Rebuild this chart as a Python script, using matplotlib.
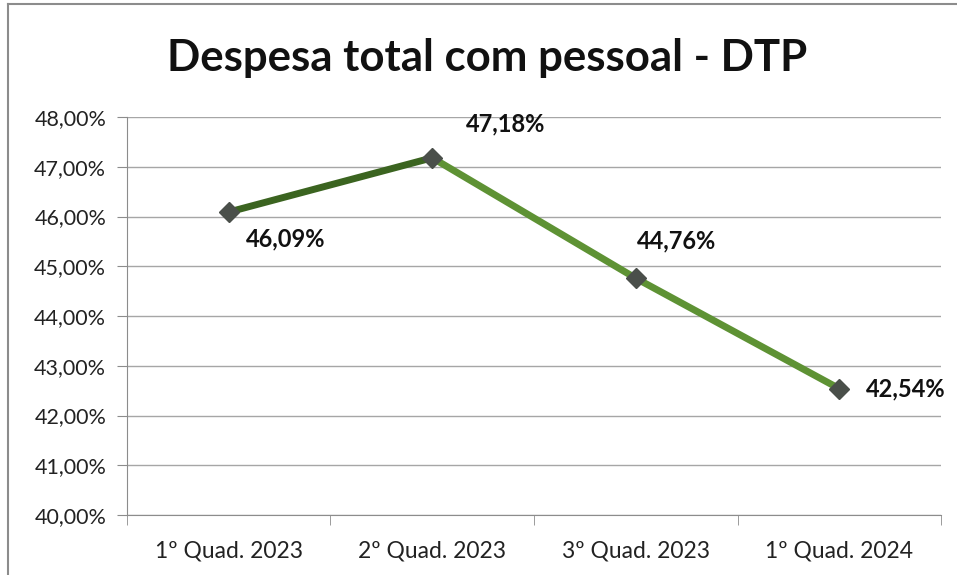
import matplotlib
matplotlib.use("Agg")
import matplotlib.pyplot as plt
from matplotlib.lines import Line2D
from matplotlib.ticker import FuncFormatter

plt.rcParams['font.family'] = ['Lato', 'DejaVu Sans']

# dados do gráfico
categorias = ['1º Quad. 2023', '2º Quad. 2023', '3º Quad. 2023', '1º Quad. 2024']
dtp = [46.09, 47.18, 44.76, 42.54]
rotulos = ['46,09%', '47,18%', '44,76%', '42,54%']
# deslocamento dos rótulos (pixels)
offsets = [(57, -27), (73, 34), (41, 37), (27, 0)]
alinh = ['center', 'center', 'center', 'left']

fig = plt.figure(figsize=(9.57, 5.75), dpi=100)
ax = fig.add_axes([0.1327, 0.1043, 0.8506, 0.6922])

x = list(range(len(categorias)))
ax.plot(x[:2], dtp[:2], color='#3b6420', lw=5, solid_capstyle='butt', zorder=3)
ax.plot(x[1:], dtp[1:], color='#5e9234', lw=5, solid_capstyle='butt', zorder=3)
ax.plot(x, dtp, ls='none', marker='D', ms=10, color='#4a4f4a', zorder=4)

for i, (lab, off, ha) in enumerate(zip(rotulos, offsets, alinh)):
    ax.annotate(lab, (x[i], dtp[i]), xytext=off, textcoords='offset pixels',
                ha=ha, va='center', fontsize=17, fontweight='bold', color='#111111')

ax.set_xlim(-0.5, len(categorias) - 0.5)
ax.set_ylim(40, 48)
ax.set_yticks(range(40, 49))
ax.yaxis.set_major_formatter(FuncFormatter(lambda v, p: f'{v:.2f}%'.replace('.', ',')))
ax.set_xticks(x)
ax.set_xticklabels(categorias)
ax.set_xticks([i - 0.5 for i in range(len(categorias) + 1)], minor=True)
ax.tick_params(axis='x', which='major', length=0, pad=18, labelsize=16.5, labelcolor='#222222')
ax.tick_params(axis='x', which='minor', length=7, color='#8c8c8c', direction='out')
ax.tick_params(axis='y', length=7, color='#8c8c8c', pad=8, labelsize=15.5, labelcolor='#222222')

ax.grid(axis='y', color='#a6a6a6', lw=1)
ax.set_axisbelow(True)
for s in ['top', 'right']:
    ax.spines[s].set_visible(False)
for s in ['left', 'bottom']:
    ax.spines[s].set_color('#8c8c8c')

fig.text(0.509, 0.9, 'Despesa total com pessoal - DTP', ha='center', va='center',
         fontsize=31.5, fontweight='bold', color='#111111')

# moldura do gráfico
fig.add_artist(Line2D([8 / 957, 8 / 957], [0, 1 - 4 / 575], color='#8c8c8c', lw=1.5))
fig.add_artist(Line2D([8 / 957, 1], [1 - 4 / 575, 1 - 4 / 575], color='#8c8c8c', lw=1.5))

fig.savefig('out.png', dpi=100)
